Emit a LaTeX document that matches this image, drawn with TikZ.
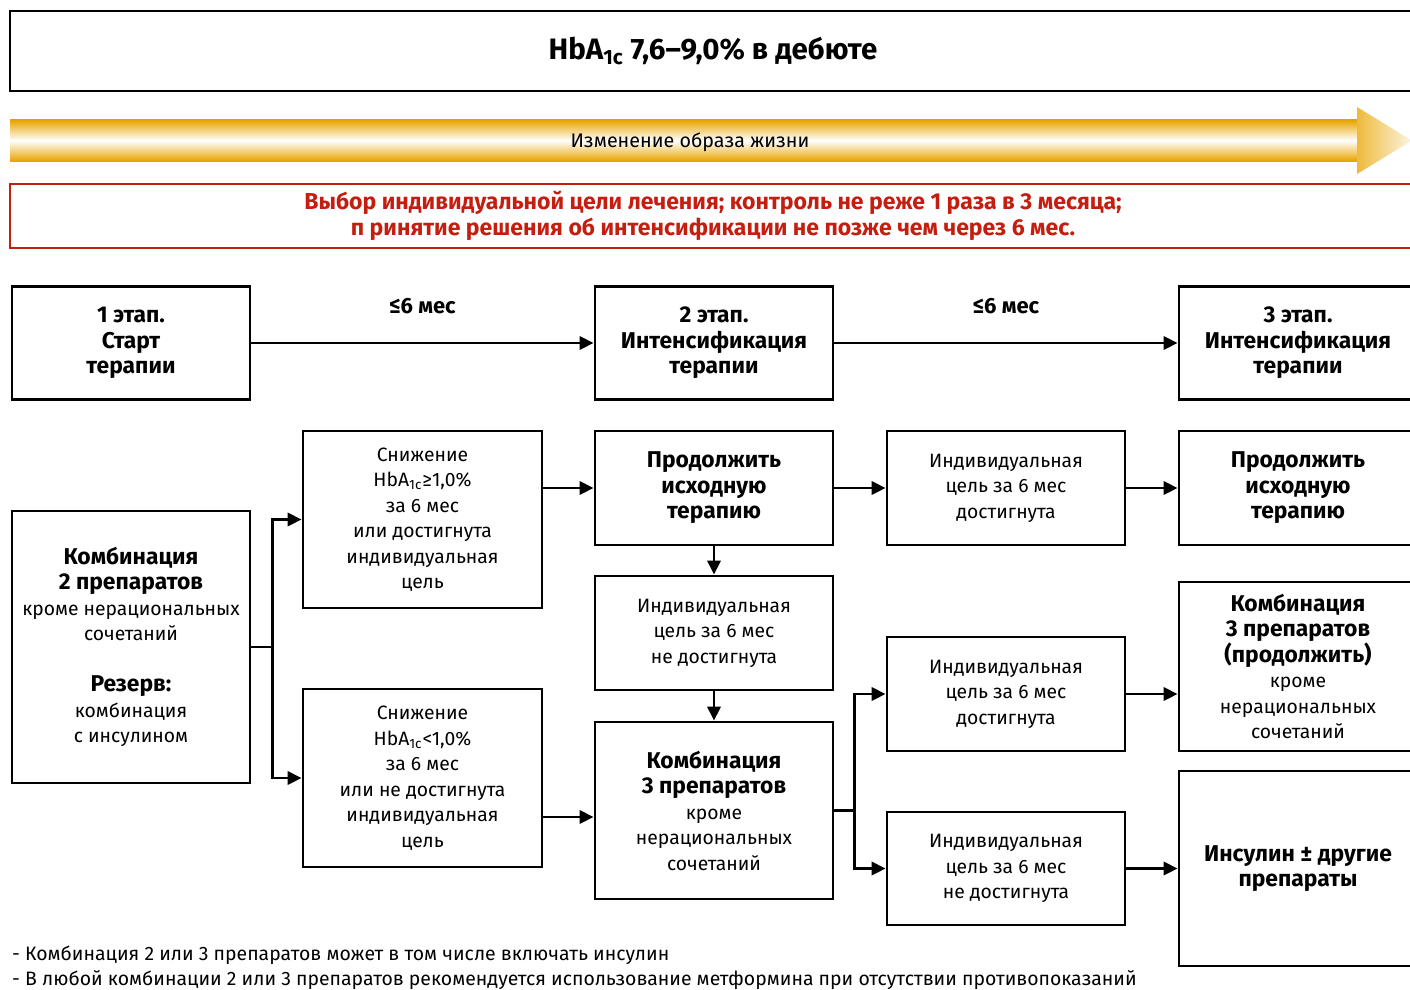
\documentclass[tikz,border=0pt]{standalone}
\usepackage{fontspec}
\setmainfont{Fira Sans}
\usetikzlibrary{arrows.meta,positioning,calc}
\definecolor{bandcol}{RGB}{232,164,0}
\definecolor{headcol}{RGB}{238,186,60}
\definecolor{redcol}{RGB}{195,30,15}
\newcommand{\HbA}{HbA\textsubscript{1c}}
\newcommand{\bl}[1]{{\fontsize{13}{14.5}\selectfont\bfseries #1}}

\begin{document}
\begin{tikzpicture}[x=0.02cm,y=-0.02cm,>={Triangle[length=8pt,width=7.5pt]},
  box/.style={draw,line width=1.6pt,align=center,minimum width=4.76cm,inner sep=2pt,
    font=\fontsize{11}{14.5}\selectfont},
  bbox/.style={box,font=\fontsize{13}{14.5}\selectfont\bfseries},
  lnk/.style={line width=1.6pt}]
  \useasboundingbox (0,0) rectangle (1410,990);
  % header, band, red note
  \node[draw,line width=1.4pt,minimum width=28.12cm,minimum height=1.6cm,
    font=\fontsize{16.8}{18}\selectfont\bfseries] (head) at (713,51) {\HbA{} 7,6--9,0\% в дебюте};
  \shade[top color=bandcol,bottom color=bandcol,middle color=white] (10,120) rectangle (1357,161);
  \shade[left color=headcol,right color=white!85!headcol] (1357,107) -- (1412,140.5) -- (1357,174) -- cycle;
  \node[font=\fontsize{11.2}{14}\selectfont] (life) at (690,142) {Изменение образа жизни};
  \node[draw=redcol,line width=1.4pt,minimum width=28.12cm,minimum height=1.28cm,align=center,
    text=redcol,font=\fontsize{13.1}{14.7}\selectfont\bfseries] (goal) at (713,216)
    {Выбор индивидуальной цели лечения; контроль не реже 1 раза в 3 месяца;\\
     п ринятие решения об интенсификации не позже чем через 6 мес.};
  % stages
  \node[bbox,minimum height=2.26cm] (s1) at (131,343) {1 этап.\\Старт\\терапии};
  \node[bbox,minimum height=2.26cm] (s2) at (714,343) {2 этап.\\Интенсификация\\терапии};
  \node[bbox,minimum height=2.26cm] (s3) at (1298,343) {3 этап.\\Интенсификация\\терапии};
  \draw[lnk,->] (s1) -- node[above=0.44cm,font=\fontsize{12.5}{14}\selectfont\bfseries] {≤6 мес} (s2);
  \draw[lnk,->] (s2) -- node[above=0.44cm,font=\fontsize{12.5}{14}\selectfont\bfseries] {≤6 мес} (s3);
  % boxes
  \node[box,minimum height=5.44cm] (comb2) at (131,647)
    {\bl{Комбинация}\\\bl{2 препаратов}\\кроме нерациональных\\сочетаний\\[14.5pt]
     \bl{Резерв:}\\комбинация\\с инсулином};
  \node[box,minimum width=4.78cm,minimum height=3.54cm] (drop) at (422.5,519.5)
    {Снижение\\\HbA≥1,0\%\\за 6 мес\\или достигнута\\индивидуальная\\цель};
  \node[box,minimum width=4.78cm,minimum height=3.56cm] (nodrop) at (422.5,778)
    {Снижение\\\HbA<1,0\%\\за 6 мес\\или не достигнута\\индивидуальная\\цель};
  \node[bbox,minimum height=2.28cm] (keep) at (714,488) {Продолжить\\исходную\\терапию};
  \node[box,minimum height=2.28cm] (miss) at (714,633) {Индивидуальная\\цель за 6 мес\\не достигнута};
  \node[box,minimum height=3.54cm] (comb3) at (714,810.5)
    {\bl{Комбинация}\\\bl{3 препаратов}\\кроме\\нерациональных\\сочетаний};
  \node[box,minimum height=2.28cm] (hitA) at (1006,488) {Индивидуальная\\цель за 6 мес\\достигнута};
  \node[box,minimum height=2.28cm] (hitB) at (1006,694) {Индивидуальная\\цель за 6 мес\\достигнута};
  \node[box,minimum height=2.26cm] (missB) at (1006,868.5) {Индивидуальная\\цель за 6 мес\\не достигнута};
  \node[bbox,minimum height=2.28cm] (keepB) at (1298,488) {Продолжить\\исходную\\терапию};
  \node[box,minimum height=3.38cm] (comb3b) at (1298,666.5)
    {\bl{Комбинация}\\\bl{3 препаратов}\\\bl{(продолжить)}\\кроме\\нерациональных\\сочетаний};
  \node[bbox,minimum height=3.9cm] (ins) at (1298,868.5) {Инсулин ± другие\\препараты};
  % connectors
  \draw[lnk] (comb2.east) -- ++(21,0) coordinate (forkA);
  \draw[lnk,->] (forkA) |- (drop.west);
  \draw[lnk,->] (forkA) |- (nodrop.west);
  \draw[lnk,->] (keep.west -| drop.east) -- (keep.west);
  \draw[lnk,->] ([yshift=-0.13cm]comb3.west -| nodrop.east) -- ([yshift=-0.13cm]comb3.west);
  \draw[lnk,->] (keep) -- (miss);
  \draw[lnk,->] (miss) -- (comb3);
  \draw[lnk,->] (keep) -- (hitA);
  \draw[lnk,->] (hitA) -- (keepB);
  \draw[lnk] (comb3.east) -- ++(20,0) coordinate (forkB);
  \draw[lnk,->] (forkB) |- (hitB.west);
  \draw[lnk,->] (forkB) |- (missB.west);
  \draw[lnk,->] (hitB.east) -- (hitB.east -| comb3b.west);
  \draw[lnk,->] (missB.east) -- (missB.east -| ins.west);
  % notes
  \node[anchor=west,font=\fontsize{11.05}{14}\selectfont] (noteA) at (6,955)
    {- Комбинация 2 или 3 препаратов может в том числе включать инсулин};
  \node[anchor=west,font=\fontsize{11.05}{14}\selectfont] (noteB) at (6,980)
    {- В любой комбинации 2 или 3 препаратов рекомендуется использование метформина при отсутствии противопоказаний};
\end{tikzpicture}
\end{document}
